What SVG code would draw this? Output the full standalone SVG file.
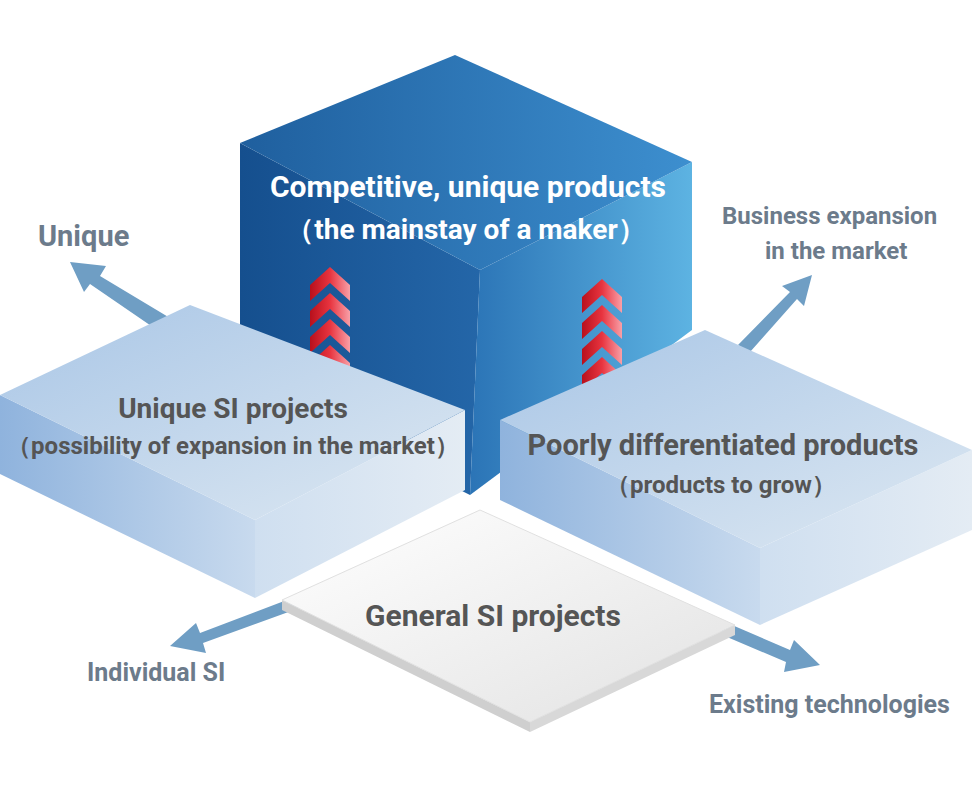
<svg xmlns="http://www.w3.org/2000/svg" width="974" height="786" viewBox="0 0 974 786">
<defs>
<linearGradient id="cubeTop" x1="0" y1="0" x2="1" y2="0"><stop offset="0" stop-color="#1f5f9e"/><stop offset="1" stop-color="#3d8fcf"/></linearGradient>
<linearGradient id="cubeL" x1="0" y1="0" x2="1" y2="0"><stop offset="0" stop-color="#154f8e"/><stop offset="1" stop-color="#2466a8"/></linearGradient>
<linearGradient id="cubeR" x1="0" y1="0" x2="1" y2="0"><stop offset="0" stop-color="#2b74b6"/><stop offset="1" stop-color="#5db3e2"/></linearGradient>
<linearGradient id="slabTop" x1="0" y1="0" x2="1" y2="1"><stop offset="0" stop-color="#a9c6e6"/><stop offset="1" stop-color="#dde8f2"/></linearGradient>
<linearGradient id="slabL" x1="0" y1="0" x2="1" y2="0"><stop offset="0" stop-color="#8fb3dd"/><stop offset="1" stop-color="#c8daee"/></linearGradient>
<linearGradient id="slabR" x1="0" y1="0" x2="1" y2="0"><stop offset="0" stop-color="#cfdff0"/><stop offset="1" stop-color="#e4ecf4"/></linearGradient>
<linearGradient id="tile" x1="0" y1="0" x2="1" y2="1"><stop offset="0" stop-color="#ffffff"/><stop offset="1" stop-color="#e2e2e2"/></linearGradient>
<linearGradient id="chev" x1="0" y1="0" x2="1" y2="0"><stop offset="0" stop-color="#b8101c"/><stop offset="0.5" stop-color="#e8343f"/><stop offset="1" stop-color="#f8a0a8"/></linearGradient>
<g id="chevs">
<path d="M-20,0 L0,-18 L20,0 L20,16 L0,-2 L-20,16Z"/>
<path d="M-20,26 L0,8 L20,26 L20,42 L0,24 L-20,42Z"/>
<path d="M-20,52 L0,34 L20,52 L20,68 L0,50 L-20,68Z"/>
<path d="M-20,78 L0,60 L20,78 L20,94 L0,76 L-20,94Z"/>
</g>
</defs>
<style>
.lab{font-family:Roboto,"Liberation Sans",sans-serif;font-weight:bold;fill:#6c7b8b}
.w{font-family:Roboto,"Liberation Sans",sans-serif;font-weight:bold;fill:#fff;text-anchor:middle}
.g{font-family:Roboto,"Liberation Sans",sans-serif;font-weight:bold;fill:#555;text-anchor:middle}
.arr{fill:#6f9ec4}
</style>
<g id="connectors">
<path class="arr" d="M170,318 L100,276 L106,266 L70,262 L84,292 L90,284 L160,332Z"/>
<path class="arr" d="M738,345 L790,292 L782,286 L812,275 L804,306 L797,299 L750,352Z"/>
<path class="arr" d="M300,595 L200,633 L196,623 L170,646 L206,653 L203,643 L305,606Z"/>
<path class="arr" d="M725,622 L790,650 L794,640 L820,665 L784,672 L786,662 L720,634Z"/>
</g>
<g id="cube">
<path d="M240,143 L480,270 L470,495 L240,380Z" fill="url(#cubeL)"/>
<path d="M480,270 L692,162 L692,330 L470,495Z" fill="url(#cubeR)"/>
<path d="M240,143 L455,55 L692,162 L480,270Z" fill="url(#cubeTop)"/>
<text class="w" x="468" y="197" font-size="30">Competitive, unique products</text>
<text class="w" x="466" y="239" font-size="28">（the mainstay of a maker）</text>
<use href="#chevs" x="330" y="285" fill="url(#chev)"/>
<use href="#chevs" x="602" y="297" fill="url(#chev)"/>
</g>
<g id="tile-general">
<path d="M282,600 L530,722 L530,732 L282,610Z" fill="#cfcfcf"/>
<path d="M530,722 L735,625 L735,635 L530,732Z" fill="#d8d8d8"/>
<path d="M282,600 L480,510 L735,625 L530,722Z" fill="url(#tile)" stroke="#e0e0e0"/>
<text class="g" x="493" y="626" font-size="30">General SI projects</text>
</g>
<g id="slab-left">
<path d="M0,395 L255,520 L255,598 L0,474Z" fill="url(#slabL)"/>
<path d="M255,520 L465,410 L465,490 L255,598Z" fill="url(#slabR)"/>
<path d="M0,395 L190,305 L465,410 L255,520Z" fill="url(#slabTop)"/>
<text class="g" x="233" y="418" font-size="28">Unique SI projects</text>
<text class="g" x="233" y="454" font-size="24">（possibility of expansion in the market）</text>
</g>
<g id="slab-right">
<path d="M500,420 L760,548 L760,625 L500,500Z" fill="url(#slabL)"/>
<path d="M760,548 L972,450 L972,530 L760,625Z" fill="url(#slabR)"/>
<path d="M500,420 L705,330 L972,450 L760,548Z" fill="url(#slabTop)"/>
<text class="g" x="723" y="455" font-size="29">Poorly differentiated products</text>
<text class="g" x="721" y="493" font-size="24">（products to grow）</text>
</g>
<g id="labels">
<text class="lab" x="38" y="246" font-size="29">Unique</text>
<text class="lab" x="722" y="224" font-size="24">Business expansion</text>
<text class="lab" x="765" y="259" font-size="24">in the market</text>
<text class="lab" x="87" y="681" font-size="25">Individual SI</text>
<text class="lab" x="709" y="713" font-size="25">Existing technologies</text>
</g>
</svg>
